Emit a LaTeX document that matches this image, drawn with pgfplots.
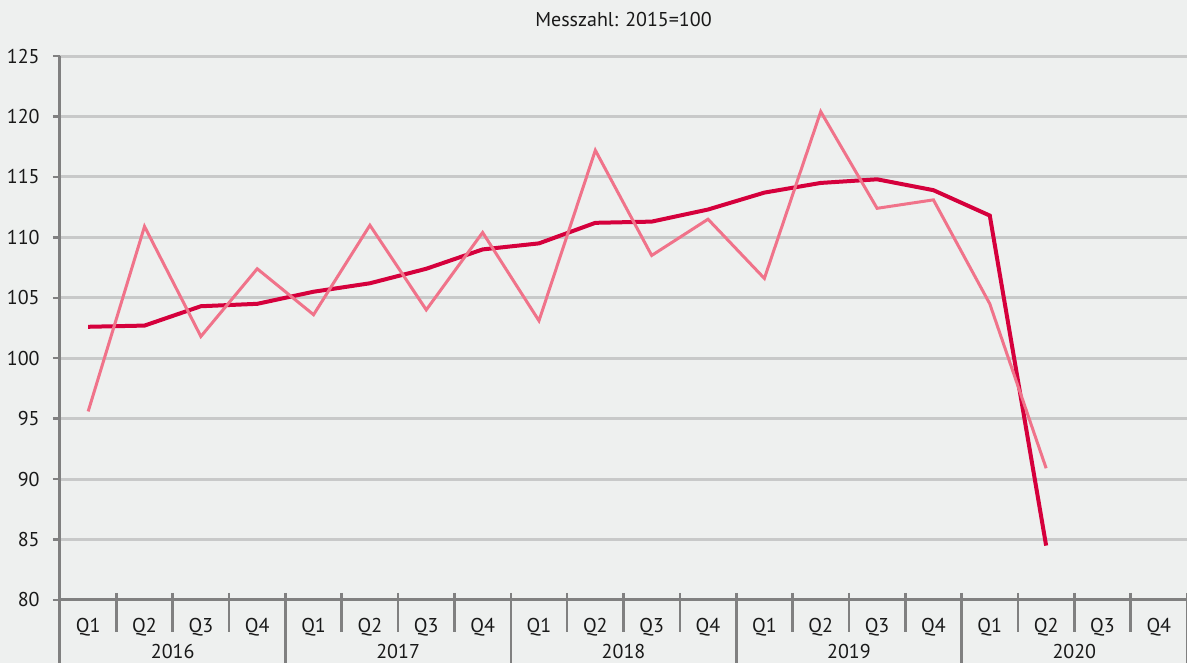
\documentclass[border=0pt]{standalone}
\usepackage{pgfplots}
\pgfplotsset{compat=1.18}
\usepackage{fontspec}
\setmainfont{PT Sans}
\definecolor{bg}{HTML}{EEF0EF}
\definecolor{gridc}{HTML}{C8C9C9}
\definecolor{axc}{HTML}{808080}
\definecolor{darkred}{HTML}{D5003C}
\definecolor{lightred}{HTML}{F0738A}
\begin{document}
\begin{tikzpicture}
\fill[bg] (-30pt,-31.5pt) rectangle (563.5pt,300pt);
\begin{axis}[
  at={(0,0)}, anchor=south west,
  scale only axis, width=563.5pt, height=272pt,
  xmin=-0.5, xmax=19.5, ymin=80, ymax=125,
  axis x line=bottom, axis y line=left,
  axis line style={-, axc, line width=1.5pt},
  ytick={80,85,...,125},
  ymajorgrids, grid style={gridc, line width=1.5pt},
  xtick={0,...,19},
  xticklabels={Q1,Q2,Q3,Q4,Q1,Q2,Q3,Q4,Q1,Q2,Q3,Q4,Q1,Q2,Q3,Q4,Q1,Q2,Q3,Q4},
  x tick style={draw=none},
  y tick style={axc, line width=1.2pt},
  tick align=outside, major tick length=3.5pt,
  /pgf/number format/assume math mode=true,
  font=\fontsize{10}{12}\selectfont,
  every tick label/.append style={font=\fontsize{10}{12}\selectfont, text=black!90},
  xticklabel style={anchor=center, text height=7pt, text depth=0pt, inner sep=0pt, yshift=-9.5pt},
  yticklabel style={anchor=east, inner sep=0pt, xshift=-6.5pt},
  clip=false,
]
\addplot[darkred, line width=2pt] coordinates {
(0,102.6) (1,102.7) (2,104.3) (3,104.5) (4,105.5) (5,106.2) (6,107.4) (7,109.0)
(8,109.5) (9,111.2) (10,111.3) (11,112.3) (12,113.7) (13,114.5) (14,114.8) (15,113.9)
(16,111.8) (17,84.5)};
\addplot[lightred, line width=1.5pt] coordinates {
(0,95.6) (1,110.9) (2,101.8) (3,107.4) (4,103.6) (5,111.0) (6,104.0) (7,110.4)
(8,103.1) (9,117.2) (10,108.5) (11,111.5) (12,106.6) (13,120.4) (14,112.4) (15,113.1)
(16,104.5) (17,90.9)};
\pgfplotsinvokeforeach{0.5,1.5,2.5,4.5,5.5,6.5,8.5,9.5,10.5,12.5,13.5,14.5,16.5,17.5,18.5}{
  \draw[axc, line width=1.3pt] ([yshift=3.5pt]axis cs:#1,80) -- ([yshift=-16pt]axis cs:#1,80);
}
\pgfplotsinvokeforeach{3.5,7.5,11.5,15.5,19.5}{
  \draw[axc, line width=1.3pt] ([yshift=3.5pt]axis cs:#1,80) -- ([yshift=-33pt]axis cs:#1,80);
}
\draw[axc, line width=1.5pt] (axis cs:-0.5,80) -- ([yshift=-33pt]axis cs:-0.5,80);
\node[anchor=center, text height=7pt, text depth=0pt, inner sep=0pt, text=black!90] at ([yshift=-26pt]axis cs:1.5,80) {2016};
\node[anchor=center, text height=7pt, text depth=0pt, inner sep=0pt, text=black!90] at ([yshift=-26pt]axis cs:5.5,80) {2017};
\node[anchor=center, text height=7pt, text depth=0pt, inner sep=0pt, text=black!90] at ([yshift=-26pt]axis cs:9.5,80) {2018};
\node[anchor=center, text height=7pt, text depth=0pt, inner sep=0pt, text=black!90] at ([yshift=-26pt]axis cs:13.5,80) {2019};
\node[anchor=center, text height=7pt, text depth=0pt, inner sep=0pt, text=black!90] at ([yshift=-26pt]axis cs:17.5,80) {2020};
\node[anchor=center, text height=7pt, text depth=0pt, inner sep=0pt, text=black!90, font=\fontsize{10}{12}\selectfont] at ([yshift=18.5pt]rel axis cs:0.5,1) {Messzahl: 2015=100};
\end{axis}
\pgfresetboundingbox
\useasboundingbox (-30pt,-31.5pt) rectangle (563.5pt,300pt);
\end{tikzpicture}
\end{document}
